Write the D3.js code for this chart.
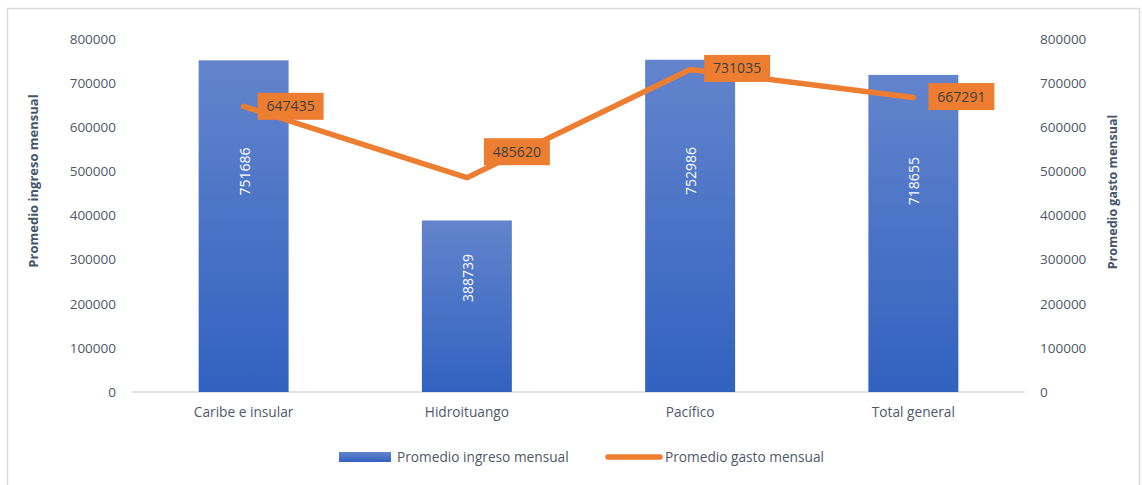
<!DOCTYPE html>
<html>
<head>
<meta charset="utf-8">
<script src="https://cdn.jsdelivr.net/npm/d3@7"></script>
<style>
  html, body { margin: 0; padding: 0; background: #fff; }
  svg { display: block; }
  text { font-family: "Open Sans", sans-serif; }
</style>
</head>
<body>
<script>
const categories = ["Caribe e insular", "Hidroituango", "Pacífico", "Total general"];
const ingreso = [751686, 388739, 752986, 718655];
const gasto = [647435, 485620, 731035, 667291];
const tickValues = [0, 100000, 200000, 300000, 400000, 500000, 600000, 700000, 800000];
const seriesNames = ["Promedio ingreso mensual", "Promedio gasto mensual"];

const W = 1142, H = 485;
const svg = d3.select("body").append("svg").attr("width", W).attr("height", H);

// chart border
svg.append("rect").attr("x", 7.5).attr("y", 8.5).attr("width", 1132).attr("height", 490)
  .attr("fill", "#fff").attr("stroke", "#d9d9d9").attr("stroke-width", 1.5);

const defs = svg.append("defs");
const grad = defs.append("linearGradient").attr("id", "barGrad")
  .attr("x1", 0).attr("y1", 0).attr("x2", 0).attr("y2", 1);
grad.append("stop").attr("offset", "0%").attr("stop-color", "#6384cc");
grad.append("stop").attr("offset", "100%").attr("stop-color", "#3162c0");

const x = d3.scaleBand().domain(categories).range([132, 1025])
  .paddingInner(0.597).paddingOuter(0.2985);
const y = d3.scaleLinear().domain([0, 800000]).range([392, 39]);
const y2 = d3.scaleLinear().domain([0, 800000]).range([392, 39]);

const tickColor = "#4f5867";

// left axis
const yAxisL = d3.axisLeft(y).tickValues(tickValues).tickSize(0).tickPadding(0).tickFormat(d3.format("d"));
const gL = svg.append("g").attr("transform", "translate(116,0)").call(yAxisL);
gL.select(".domain").remove();
gL.selectAll("text").attr("fill", tickColor).style("font-size", "13.5px");

// right axis
const yAxisR = d3.axisRight(y2).tickValues(tickValues).tickSize(0).tickPadding(0).tickFormat(d3.format("d"));
const gR = svg.append("g").attr("transform", "translate(1040,0)").call(yAxisR);
gR.select(".domain").remove();
gR.selectAll("text").attr("fill", tickColor).style("font-size", "13.5px");

// baseline
svg.append("line").attr("x1", 132).attr("x2", 1025).attr("y1", y(0)).attr("y2", y(0))
  .attr("stroke", "#d9d9d9").attr("stroke-width", 1.5);

// x axis labels
const xAxis = d3.axisBottom(x).tickSize(0).tickPadding(0);
const gX = svg.append("g").attr("transform", `translate(0,${y(0) + 15})`).call(xAxis);
gX.select(".domain").remove();
gX.selectAll("text").attr("fill", tickColor).style("font-size", "13.7px");

// bars
svg.append("g").selectAll("rect").data(ingreso).join("rect")
  .attr("x", (d, i) => x(categories[i]))
  .attr("width", x.bandwidth())
  .attr("y", d => y(d))
  .attr("height", d => y(0) - y(d))
  .attr("fill", "url(#barGrad)");

// bar labels (rotated)
svg.append("g").selectAll("text").data(ingreso).join("text")
  .attr("transform", (d, i) => `translate(${x(categories[i]) + x.bandwidth() / 2 + 1},${y(d * 0.665)}) rotate(-90)`)
  .attr("text-anchor", "middle").attr("dy", "0.35em")
  .attr("fill", "#ffffff").style("font-size", "14px")
  .text(d => d);

// line
const pts = gasto.map((d, i) => [x(categories[i]) + x.bandwidth() / 2, y2(d)]);
svg.append("path").datum(pts)
  .attr("d", d3.line())
  .attr("fill", "none").attr("stroke", "#ED7D31").attr("stroke-width", 5.5)
  .attr("stroke-linejoin", "round").attr("stroke-linecap", "round");

// line labels
const labelOffsets = [[14, 0], [17, -26], [14, -1], [15, -1]];
const lg = svg.append("g");
gasto.forEach((d, i) => {
  const [px, py] = pts[i];
  const bx = px + labelOffsets[i][0];
  const cy = py + labelOffsets[i][1];
  const bw = 66, bh = 27;
  lg.append("rect").attr("x", bx).attr("y", cy - bh / 2).attr("width", bw).attr("height", bh)
    .attr("fill", "#ED7D31");
  lg.append("text").attr("x", bx + bw / 2).attr("y", cy).attr("dy", "0.36em")
    .attr("text-anchor", "middle").attr("fill", "#404040").style("font-size", "14px")
    .text(d);
});

// axis titles
svg.append("text").attr("transform", "translate(38,181) rotate(-90)")
  .attr("text-anchor", "middle").attr("fill", "#44546a")
  .style("font-size", "13px").style("font-weight", "bold").text(seriesNames[0]);
svg.append("text").attr("transform", "translate(1117,192) rotate(-90)")
  .attr("text-anchor", "middle").attr("fill", "#44546a")
  .style("font-size", "12.5px").style("font-weight", "bold").text(seriesNames[1]);

// legend
const leg = svg.append("g");
leg.append("rect").attr("x", 339).attr("y", 452).attr("width", 52).attr("height", 10).attr("fill", "url(#barGrad)");
leg.append("text").attr("x", 397).attr("y", 457).attr("dy", "0.35em").attr("fill", tickColor)
  .style("font-size", "13.7px").text(seriesNames[0]);
leg.append("line").attr("x1", 608).attr("x2", 660).attr("y1", 457).attr("y2", 457)
  .attr("stroke", "#ED7D31").attr("stroke-width", 5.5).attr("stroke-linecap", "round");
leg.append("text").attr("x", 665).attr("y", 457).attr("dy", "0.35em").attr("fill", tickColor)
  .style("font-size", "13.7px").text(seriesNames[1]);
</script>
</body>
</html>
